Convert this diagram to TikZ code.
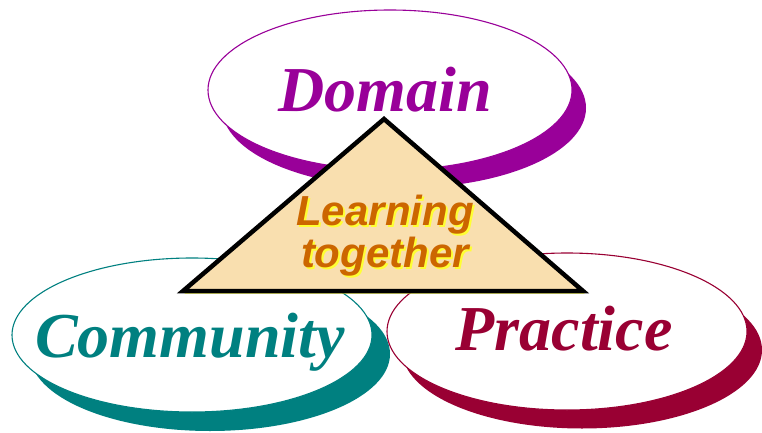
\documentclass[tikz,border=0pt]{standalone}
\usepackage{fontspec}
\setmainfont{Liberation Serif}
\newfontfamily\arialfont{Liberation Sans}
\usetikzlibrary{shapes.geometric}
\definecolor{dompurple}{HTML}{990099}
\definecolor{comteal}{HTML}{008080}
\definecolor{pracred}{HTML}{990033}
\definecolor{trifill}{HTML}{F9DFAF}
\definecolor{learnorange}{HTML}{CC6600}
\definecolor{glowyellow}{HTML}{FFFF33}
\newcommand{\glowtext}[1]{\rlap{\kern2pt\raisebox{-2pt}{\color{glowyellow}#1}}#1}
\tikzset{
  oval/.style={ellipse, inner sep=0pt, minimum width=360pt, draw, line width=1.1pt, fill=white},
  ovalshadow/.style={ellipse, inner sep=0pt, minimum width=360pt},
  bigword/.style={anchor=base, inner sep=0pt, font=\fontsize{64}{64}\selectfont\bfseries\itshape},
  learnword/.style={anchor=base, inner sep=0pt, text=learnorange, font=\arialfont\fontsize{42}{42}\selectfont\bfseries\itshape},
}
\begin{document}
\begin{tikzpicture}[x=1pt,y=-1pt]
\useasboundingbox (0,0) rectangle (762,433);
% Domain
\node[ovalshadow, minimum width=364pt, minimum height=160pt, fill=dompurple] (domsh) at (404,108) {};
\node[oval, minimum width=364pt, minimum height=160pt, draw=dompurple] (dom) at (390,90) {};
\node[bigword, text=dompurple] (domtxt) at (385,112) {Domain};
% Community
\node[ovalshadow, minimum height=154pt, fill=comteal] (comsh) at (210,354) {};
\node[oval, minimum height=154pt, draw=comteal] (com) at (192,335) {};
\node[bigword, text=comteal] (comtxt) at (190,357) {Community};
% Practice
\node[ovalshadow, minimum height=157pt, fill=pracred] (prash) at (582,350) {};
\node[oval, minimum height=157pt, draw=pracred] (pra) at (567,331.5) {};
\node[bigword, text=pracred] (pratxt) at (564,350) {Practice};
% Triangle
\coordinate (tA) at (384,119);
\coordinate (tL) at (183,291);
\coordinate (tR) at (583,291);
\fill[glowyellow] ([shift={(1.5,2.5)}]tA) -- ([shift={(1.5,2.5)}]tL) -- ([shift={(1.5,2.5)}]tR) -- cycle;
\draw[fill=trifill, line width=4.5pt, line join=miter] (tA) -- (tL) -- (tR) -- cycle;
\node[learnword] (learnA) at (385,225) {\glowtext{Learning}};
\node[learnword] (learnB) at (385,267) {\glowtext{together}};
\end{tikzpicture}
\end{document}
